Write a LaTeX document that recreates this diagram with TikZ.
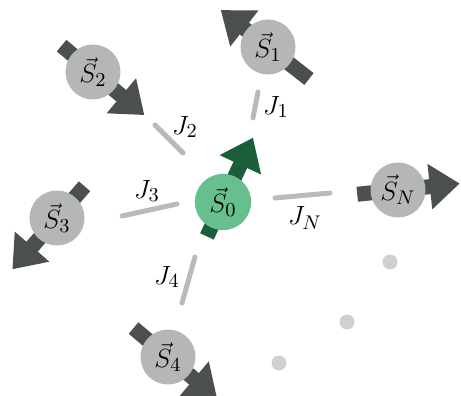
\documentclass[tikz,border=0pt]{standalone}
\usepackage{tikz}
\usetikzlibrary{positioning, calc, arrows.meta, backgrounds}
\usepackage{xcolor}

\definecolor{spinGray}{HTML}{B4B6B7}
\definecolor{spinGreen}{HTML}{66BF8D}
\definecolor{arrowGray}{HTML}{4B4F50}
\definecolor{arrowGreen}{HTML}{1B5E3B}
\definecolor{bondGray}{HTML}{B8BABB}
\definecolor{dotGray}{HTML}{CFD0D1}

\begin{document}
\begin{tikzpicture}[x=0.16mm, y=0.16mm, font=\fontsize{13}{15}\selectfont,
  spin/.style = {circle, fill=spinGray, minimum size=8.8mm, inner sep=0pt},
  spinarrow/.style = {line width=2.4mm, arrowGray, -{Triangle[length=4.8mm, width=7mm]}},
  bond/.style = {line width=0.8mm, bondGray, line cap=round},
  dot/.style = {circle, fill=dotGray, minimum size=2.4mm, inner sep=0pt}
  ]

\useasboundingbox (0,0) rectangle (461,396);

% S0 - central spin
\node[spin, fill=spinGreen, minimum size=9mm] (S0) at (223,194) {$\vec{S}_0$};

% neighbours
\node[spin] (S1) at (268,349) {$\vec{S}_1$};
\node[spin] (S2) at (93,324)  {$\vec{S}_2$};
\node[spin] (S3) at (57,178)  {$\vec{S}_3$};
\node[spin] (S4) at (168,39)  {$\vec{S}_4$};
\node[spin] (SN) at (398,206) {$\vec{S}_N$};

% dots for the remaining spins
\node[dot] (d1) at (390,134) {};
\node[dot] (d2) at (347,74)  {};
\node[dot] (d3) at (279,33)  {};

%--- spin arrows behind the circles
\begin{scope}[on background layer]
\draw[spinarrow, arrowGreen] ([shift={(245:38)}]S0.center) -- ([shift={(65:71)}]S0.center);
\draw[spinarrow] ([shift={(322:52)}]S1.center) -- ([shift={(142:60)}]S1.center);
\draw[spinarrow] ([shift={(140:41)}]S2.center) -- ([shift={(-40:67)}]S2.center);
\draw[spinarrow] ([shift={(49:42)}]S3.center) -- ([shift={(229:68)}]S3.center);
\draw[spinarrow] ([shift={(140:45)}]S4.center) -- ([shift={(-40:64)}]S4.center);
\draw[spinarrow] ([shift={(186:41)}]SN.center) -- ([shift={(6:62)}]SN.center);
\end{scope}

%--- couplings
\draw[bond] (253,278) -- (258,304);
\node (J1) at (276,289) {$J_1$};
\draw[bond] (183,243) -- (155,271);
\node (J2) at (185,269) {$J_2$};
\draw[bond] (122,180) -- (177,192);
\node (J3) at (147,205) {$J_3$};
\draw[bond] (182,93) -- (195,139);
\node (J4) at (167,119) {$J_4$};
\draw[bond] (275,198) -- (330,203);
\node (JN) at (305,178) {$J_N$};

\end{tikzpicture}
\end{document}
